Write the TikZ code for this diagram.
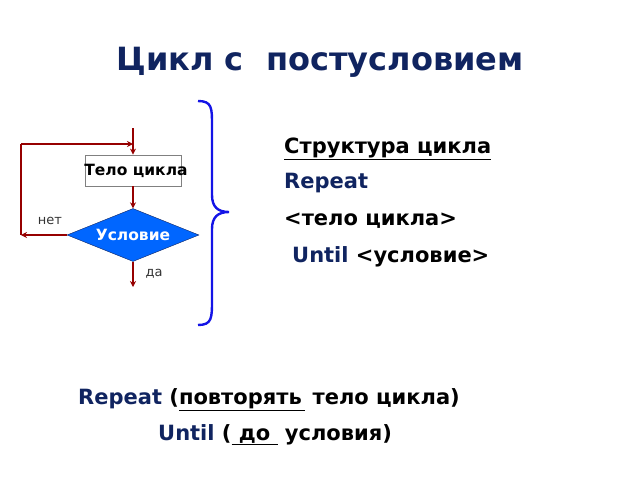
\documentclass[tikz,border=0pt]{standalone}
\usepackage{fontspec}
\setmainfont{DejaVu Sans}
\usetikzlibrary{shapes.geometric,arrows.meta}
\definecolor{navy}{RGB}{16,36,96}
\definecolor{ared}{RGB}{150,0,0}
\definecolor{dblue}{RGB}{0,102,255}
\definecolor{bblue}{RGB}{20,20,230}
\tikzset{
  flow/.style={ared,line width=1.4pt,-{Stealth[length=6pt,width=6pt]}},
  flowline/.style={ared,line width=1.4pt},
  txt/.style={anchor=base west,inner sep=0,font=\bfseries\fontsize{21}{24}\selectfont},
}
\begin{document}
\begin{tikzpicture}[x=1pt,y=-1pt]
\useasboundingbox (0,0) rectangle (640,480);
\node[navy,font=\bfseries\fontsize{32}{36}\selectfont] (title) at (320,62) {Цикл с\ \ постусловием};
\coordinate (top) at (133,128);
\node[draw=gray,line width=0.8pt,minimum width=96pt,minimum height=31pt,inner sep=0] (body) at (133,170.5) {};
\node[font=\bfseries\fontsize{15.5}{18}\selectfont,inner sep=0] (bodyt) at (136,171) {Тело цикла};
\node[diamond,draw=navy,fill=dblue,aspect=2.5,minimum width=132pt,minimum height=53pt,inner sep=0,text=white,font=\bfseries\fontsize{15.5}{18}\selectfont] (cond) at (133,235) {Условие};
\coordinate (l1) at (21,235);
\coordinate (l2) at (21,144);
\coordinate (l3) at (133,144);
\coordinate (exit) at (133,287);
\draw[flow] (top) -- (body.north);
\draw[flow] (body.south) -- (cond.north);
\draw[flow] (cond.west) -- (l1);
\draw[flowline] (l1) -- (l2);
\draw[flow] (l2) -- (l3);
\draw[flow] (cond.south) -- (exit);
\node[font=\fontsize{13}{15}\selectfont,text=black!80] (no) at (50,221) {нет};
\node[font=\fontsize{13}{15}\selectfont,text=black!80] (yes) at (154,274) {да};
\draw[bblue,line width=2.4pt] (198,101) .. controls (212,101) and (212,108) .. (212,125)
  -- (212,195) .. controls (212,207) and (218,212) .. (229,212)
  .. controls (218,212) and (212,217) .. (212,229)
  -- (212,300) .. controls (212,318) and (212,325) .. (198,325);
\node[txt] (s1) at (284,153) {\underline{Структура цикла}};
\node[txt,navy] (s2) at (284,188) {Repeat};
\node[txt] (s3) at (284,225) {<тело цикла>};
\node[txt] (s4) at (292,262) {\textcolor{navy}{Until} <условие>};
\node[txt] (b1) at (78,404) {\textcolor{navy}{Repeat} (\underline{повторять\,} тело цикла)};
\node[txt] (b2) at (158,440) {\textcolor{navy}{Until} (\underline{\ до\ }\ условия)};
\end{tikzpicture}
\end{document}
